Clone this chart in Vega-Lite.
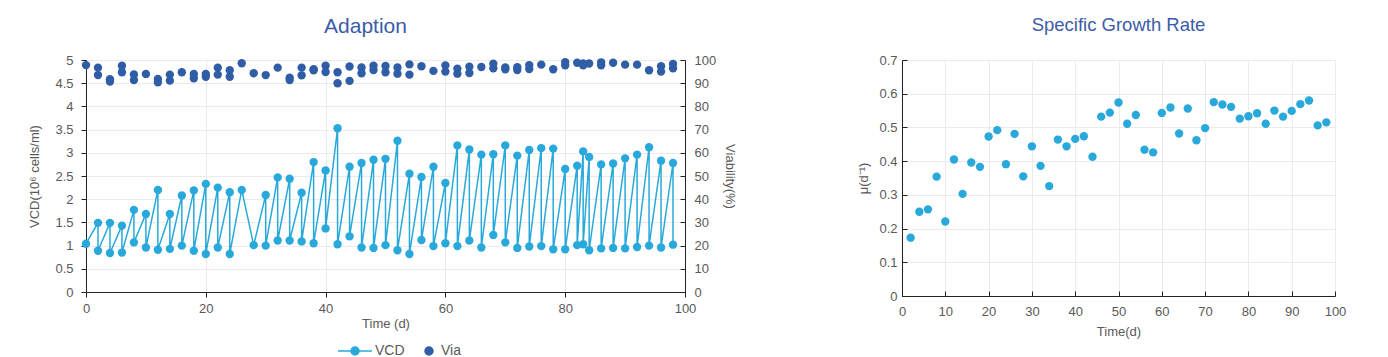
{
  "$schema": "https://vega.github.io/schema/vega-lite/v6.json",
  "padding": {"left": 28, "top": 15, "right": 5, "bottom": 0},
  "background": "white",
  "config": {
    "view": {"stroke": null},
    "font": "Liberation Sans",
    "title": {"font": "Liberation Sans", "fontSize": 18.5, "fontWeight": "normal", "color": "#3B5CA8", "anchor": "middle", "offset": 20},
    "axis": {"labelFont": "Liberation Sans", "labelFontSize": 13, "labelColor": "#595959", "titleFont": "Liberation Sans", "titleFontSize": 13, "titleFontWeight": "normal", "titleColor": "#595959", "domainColor": "#222222", "tickColor": "#222222", "gridColor": "#EBEBEB", "tickSize": 5, "labelFlush": false, "labelOverlap": false},
    "legend": {"labelFont": "Liberation Sans", "labelFontSize": 14, "labelColor": "#595959"}
  },
  "datasets": {
    "vcd": [
      {"s":1,"t":0,"v":1.04,"series":"VCD"},{"s":2,"t":2,"v":1.49,"series":"VCD"},{"s":3,"t":2,"v":0.89,"series":"VCD"},
      {"s":4,"t":4,"v":1.49,"series":"VCD"},{"s":5,"t":4,"v":0.84,"series":"VCD"},{"s":6,"t":6,"v":1.43,"series":"VCD"},
      {"s":7,"t":6,"v":0.85,"series":"VCD"},{"s":8,"t":8,"v":1.77,"series":"VCD"},{"s":9,"t":8,"v":1.07,"series":"VCD"},
      {"s":10,"t":10,"v":1.68,"series":"VCD"},{"s":11,"t":10,"v":0.96,"series":"VCD"},{"s":12,"t":12,"v":2.2,"series":"VCD"},
      {"s":13,"t":12,"v":0.91,"series":"VCD"},{"s":14,"t":14,"v":1.68,"series":"VCD"},{"s":15,"t":14,"v":0.93,"series":"VCD"},
      {"s":16,"t":16,"v":2.08,"series":"VCD"},{"s":17,"t":16,"v":1.0,"series":"VCD"},{"s":18,"t":18,"v":2.19,"series":"VCD"},
      {"s":19,"t":18,"v":0.89,"series":"VCD"},{"s":20,"t":20,"v":2.33,"series":"VCD"},{"s":21,"t":20,"v":0.82,"series":"VCD"},
      {"s":22,"t":22,"v":2.25,"series":"VCD"},{"s":23,"t":22,"v":0.96,"series":"VCD"},{"s":24,"t":24,"v":2.15,"series":"VCD"},
      {"s":25,"t":24,"v":0.82,"series":"VCD"},{"s":26,"t":26,"v":2.2,"series":"VCD"},{"s":27,"t":28,"v":1.01,"series":"VCD"},
      {"s":28,"t":30,"v":2.09,"series":"VCD"},{"s":29,"t":30,"v":1.0,"series":"VCD"},{"s":30,"t":32,"v":2.47,"series":"VCD"},
      {"s":31,"t":32,"v":1.11,"series":"VCD"},{"s":32,"t":34,"v":2.44,"series":"VCD"},{"s":33,"t":34,"v":1.11,"series":"VCD"},
      {"s":34,"t":36,"v":2.14,"series":"VCD"},{"s":35,"t":36,"v":1.09,"series":"VCD"},{"s":36,"t":38,"v":2.8,"series":"VCD"},
      {"s":37,"t":38,"v":1.05,"series":"VCD"},{"s":38,"t":40,"v":2.62,"series":"VCD"},{"s":39,"t":40,"v":1.37,"series":"VCD"},
      {"s":40,"t":42,"v":3.53,"series":"VCD"},{"s":41,"t":42,"v":1.03,"series":"VCD"},{"s":42,"t":44,"v":2.7,"series":"VCD"},
      {"s":43,"t":44,"v":1.2,"series":"VCD"},{"s":44,"t":46,"v":2.78,"series":"VCD"},{"s":45,"t":46,"v":0.96,"series":"VCD"},
      {"s":46,"t":48,"v":2.85,"series":"VCD"},{"s":47,"t":48,"v":0.95,"series":"VCD"},{"s":48,"t":50,"v":2.87,"series":"VCD"},
      {"s":49,"t":50,"v":1.01,"series":"VCD"},{"s":50,"t":52,"v":3.26,"series":"VCD"},{"s":51,"t":52,"v":0.9,"series":"VCD"},
      {"s":52,"t":54,"v":2.55,"series":"VCD"},{"s":53,"t":54,"v":0.82,"series":"VCD"},{"s":54,"t":56,"v":2.48,"series":"VCD"},
      {"s":55,"t":56,"v":1.12,"series":"VCD"},{"s":56,"t":58,"v":2.7,"series":"VCD"},{"s":57,"t":58,"v":0.99,"series":"VCD"},
      {"s":58,"t":60,"v":2.35,"series":"VCD"},{"s":59,"t":60,"v":1.05,"series":"VCD"},{"s":60,"t":62,"v":3.16,"series":"VCD"},
      {"s":61,"t":62,"v":0.99,"series":"VCD"},{"s":62,"t":64,"v":3.07,"series":"VCD"},{"s":63,"t":64,"v":1.11,"series":"VCD"},
      {"s":64,"t":66,"v":2.96,"series":"VCD"},{"s":65,"t":66,"v":0.96,"series":"VCD"},{"s":66,"t":68,"v":2.97,"series":"VCD"},
      {"s":67,"t":68,"v":1.23,"series":"VCD"},{"s":68,"t":70,"v":3.16,"series":"VCD"},{"s":69,"t":70,"v":1.07,"series":"VCD"},
      {"s":70,"t":72,"v":2.94,"series":"VCD"},{"s":71,"t":72,"v":0.95,"series":"VCD"},{"s":72,"t":74,"v":3.06,"series":"VCD"},
      {"s":73,"t":74,"v":0.98,"series":"VCD"},{"s":74,"t":76,"v":3.1,"series":"VCD"},{"s":75,"t":76,"v":0.99,"series":"VCD"},
      {"s":76,"t":78,"v":3.09,"series":"VCD"},{"s":77,"t":78,"v":0.92,"series":"VCD"},{"s":78,"t":80,"v":2.65,"series":"VCD"},
      {"s":79,"t":80,"v":0.92,"series":"VCD"},{"s":80,"t":82,"v":2.72,"series":"VCD"},{"s":81,"t":82,"v":1.01,"series":"VCD"},
      {"s":82,"t":83,"v":3.03,"series":"VCD"},{"s":83,"t":83,"v":1.03,"series":"VCD"},{"s":84,"t":84,"v":2.91,"series":"VCD"},
      {"s":85,"t":84,"v":0.9,"series":"VCD"},{"s":86,"t":86,"v":2.75,"series":"VCD"},{"s":87,"t":86,"v":0.94,"series":"VCD"},
      {"s":88,"t":88,"v":2.77,"series":"VCD"},{"s":89,"t":88,"v":0.95,"series":"VCD"},{"s":90,"t":90,"v":2.88,"series":"VCD"},
      {"s":91,"t":90,"v":0.94,"series":"VCD"},{"s":92,"t":92,"v":2.96,"series":"VCD"},{"s":93,"t":92,"v":0.97,"series":"VCD"},
      {"s":94,"t":94,"v":3.12,"series":"VCD"},{"s":95,"t":94,"v":1.0,"series":"VCD"},{"s":96,"t":96,"v":2.83,"series":"VCD"},
      {"s":97,"t":96,"v":0.96,"series":"VCD"},{"s":98,"t":98,"v":2.78,"series":"VCD"},{"s":99,"t":98,"v":1.02,"series":"VCD"}
    ],
    "via": [
      {"t":0,"via":97.8,"series":"Via"},
      {"t":2,"via":96.7,"series":"Via"},{"t":2,"via":93.5,"series":"Via"},
      {"t":4,"via":91.7,"series":"Via"},{"t":4,"via":90.7,"series":"Via"},
      {"t":6,"via":97.5,"series":"Via"},{"t":6,"via":94.7,"series":"Via"},
      {"t":8,"via":93.8,"series":"Via"},{"t":8,"via":91.4,"series":"Via"},
      {"t":10,"via":94.0,"series":"Via"},
      {"t":12,"via":91.8,"series":"Via"},{"t":12,"via":90.4,"series":"Via"},
      {"t":14,"via":93.7,"series":"Via"},{"t":14,"via":91.1,"series":"Via"},
      {"t":16,"via":94.7,"series":"Via"},
      {"t":18,"via":94.0,"series":"Via"},{"t":18,"via":92.1,"series":"Via"},
      {"t":20,"via":94.0,"series":"Via"},{"t":20,"via":92.8,"series":"Via"},
      {"t":22,"via":96.7,"series":"Via"},{"t":22,"via":93.7,"series":"Via"},
      {"t":24,"via":95.6,"series":"Via"},{"t":24,"via":92.8,"series":"Via"},
      {"t":26,"via":98.6,"series":"Via"},
      {"t":28,"via":94.3,"series":"Via"},
      {"t":30,"via":93.5,"series":"Via"},
      {"t":32,"via":96.7,"series":"Via"},
      {"t":34,"via":92.4,"series":"Via"},{"t":34,"via":91.4,"series":"Via"},
      {"t":36,"via":96.7,"series":"Via"},{"t":36,"via":93.4,"series":"Via"},
      {"t":38,"via":96.0,"series":"Via"},{"t":38,"via":95.6,"series":"Via"},
      {"t":40,"via":97.5,"series":"Via"},{"t":40,"via":94.8,"series":"Via"},
      {"t":42,"via":94.7,"series":"Via"},{"t":42,"via":90.0,"series":"Via"},
      {"t":44,"via":97.2,"series":"Via"},{"t":44,"via":91.0,"series":"Via"},
      {"t":46,"via":96.8,"series":"Via"},{"t":46,"via":94.3,"series":"Via"},
      {"t":48,"via":97.5,"series":"Via"},{"t":48,"via":95.7,"series":"Via"},
      {"t":50,"via":97.4,"series":"Via"},{"t":50,"via":94.7,"series":"Via"},
      {"t":52,"via":96.8,"series":"Via"},{"t":52,"via":94.1,"series":"Via"},
      {"t":54,"via":98.1,"series":"Via"},{"t":54,"via":93.7,"series":"Via"},
      {"t":56,"via":97.3,"series":"Via"},
      {"t":58,"via":95.3,"series":"Via"},
      {"t":60,"via":97.7,"series":"Via"},{"t":60,"via":95.0,"series":"Via"},
      {"t":62,"via":96.3,"series":"Via"},{"t":62,"via":94.1,"series":"Via"},
      {"t":64,"via":97.1,"series":"Via"},{"t":64,"via":94.4,"series":"Via"},
      {"t":66,"via":97.0,"series":"Via"},
      {"t":68,"via":98.4,"series":"Via"},{"t":68,"via":96.4,"series":"Via"},
      {"t":70,"via":96.8,"series":"Via"},{"t":70,"via":96.0,"series":"Via"},
      {"t":72,"via":96.9,"series":"Via"},{"t":72,"via":95.7,"series":"Via"},
      {"t":74,"via":97.8,"series":"Via"},{"t":74,"via":96.1,"series":"Via"},
      {"t":76,"via":98.0,"series":"Via"},
      {"t":78,"via":96.0,"series":"Via"},
      {"t":80,"via":99.1,"series":"Via"},{"t":80,"via":97.7,"series":"Via"},
      {"t":82,"via":98.8,"series":"Via"},
      {"t":83,"via":98.5,"series":"Via"},{"t":83,"via":97.7,"series":"Via"},
      {"t":84,"via":98.5,"series":"Via"},
      {"t":86,"via":99.0,"series":"Via"},{"t":86,"via":97.7,"series":"Via"},
      {"t":88,"via":98.8,"series":"Via"},
      {"t":90,"via":98.0,"series":"Via"},
      {"t":92,"via":98.0,"series":"Via"},
      {"t":94,"via":95.6,"series":"Via"},
      {"t":96,"via":97.3,"series":"Via"},{"t":96,"via":95.0,"series":"Via"},
      {"t":98,"via":98.3,"series":"Via"},{"t":98,"via":96.4,"series":"Via"}
    ],
    "mu": [
      {"t":2,"mu":0.173},{"t":4,"mu":0.25},{"t":6,"mu":0.257},{"t":8,"mu":0.354},{"t":10,"mu":0.221},
      {"t":12,"mu":0.405},{"t":14,"mu":0.303},{"t":16,"mu":0.396},{"t":18,"mu":0.383},{"t":20,"mu":0.473},
      {"t":22,"mu":0.492},{"t":24,"mu":0.391},{"t":26,"mu":0.481},{"t":28,"mu":0.355},{"t":30,"mu":0.444},
      {"t":32,"mu":0.386},{"t":34,"mu":0.326},{"t":36,"mu":0.464},{"t":38,"mu":0.444},{"t":40,"mu":0.466},
      {"t":42,"mu":0.474},{"t":44,"mu":0.413},{"t":46,"mu":0.532},{"t":48,"mu":0.544},{"t":50,"mu":0.574},
      {"t":52,"mu":0.511},{"t":54,"mu":0.537},{"t":56,"mu":0.434},{"t":58,"mu":0.426},{"t":60,"mu":0.543},
      {"t":62,"mu":0.559},{"t":64,"mu":0.482},{"t":66,"mu":0.556},{"t":68,"mu":0.462},{"t":70,"mu":0.498},
      {"t":72,"mu":0.575},{"t":74,"mu":0.568},{"t":76,"mu":0.561},{"t":78,"mu":0.526},{"t":80,"mu":0.533},
      {"t":82,"mu":0.542},{"t":84,"mu":0.511},{"t":86,"mu":0.55},{"t":88,"mu":0.532},{"t":90,"mu":0.549},
      {"t":92,"mu":0.569},{"t":94,"mu":0.58},{"t":96,"mu":0.506},{"t":98,"mu":0.515}
    ]
  },
  "spacing": 121,
  "hconcat": [
    {
      "width": 599,
      "height": 232,
      "title": {"text": "Adaption", "dx": -20, "fontSize": 21, "offset": 17.5},
      "layer": [
        {
          "data": {"name": "vcd"},
          "encoding": {
            "x": {"field": "t", "type": "quantitative", "scale": {"domain": [0, 100], "nice": false}, "axis": {"title": "Time (d)", "values": [0, 20, 40, 60, 80, 100], "grid": true, "labelPadding": 5, "titlePadding": 2}},
            "y": {"field": "v", "type": "quantitative", "scale": {"domain": [0, 5], "nice": false}, "axis": {"title": "VCD(10⁶ cells/ml)", "values": [0, 0.5, 1, 1.5, 2, 2.5, 3, 3.5, 4, 4.5, 5], "format": "~g", "grid": true, "labelPadding": 8, "titlePadding": 13}},
            "color": {
              "field": "series", "type": "nominal",
              "scale": {"domain": ["VCD", "Via"], "range": ["#29A9DB", "#2F5DA6"]},
              "legend": {
                "title": null, "orient": "none", "direction": "horizontal", "legendX": 274, "legendY": 284,
                "symbolSize": 100, "labelOffset": 1, "columnPadding": 17,
                "encode": {"symbols": {"update": {
                  "shape": {"signal": "datum.value === 'VCD' ? 'M-5.8,0L1,0M-1.6,0A0.8,0.8 0 1,1 -3.2,0A0.8,0.8 0 1,1 -1.6,0' : 'M0,0A0.8,0.8 0 1,1 -1.6,0A0.8,0.8 0 1,1 0,0'"},
                  "fill": {"signal": "datum.value === 'VCD' ? '#29A9DB' : '#2F5DA6'"},
                  "stroke": {"signal": "datum.value === 'VCD' ? '#29A9DB' : '#2F5DA6'"},
                  "strokeWidth": {"value": 1.5},
                  "opacity": {"value": 1}
                }}}
              }
            }
          },
          "layer": [
            {
              "mark": {"type": "line", "strokeWidth": 1.5},
              "encoding": {"order": {"field": "s", "type": "quantitative"}}
            },
            {
              "mark": {"type": "circle", "size": 70, "opacity": 1}
            }
          ]
        },
        {
          "data": {"name": "via"},
          "mark": {"type": "circle", "size": 70, "opacity": 1},
          "encoding": {
            "x": {"field": "t", "type": "quantitative"},
            "y": {"field": "via", "type": "quantitative", "scale": {"domain": [0, 100], "nice": false}, "axis": {"orient": "right", "title": "Viability(%)", "values": [0, 10, 20, 30, 40, 50, 60, 70, 80, 90, 100], "format": "d", "grid": false, "tickSize": -5, "labelPadding": 14, "titlePadding": 7}},
            "color": {"field": "series", "type": "nominal"}
          }
        }
      ],
      "resolve": {"scale": {"y": "independent"}}
    },
    {
      "width": 433,
      "height": 236,
      "title": "Specific Growth Rate",
      "data": {"name": "mu"},
      "mark": {"type": "circle", "size": 70, "opacity": 1, "color": "#29A9DB"},
      "encoding": {
        "x": {"field": "t", "type": "quantitative", "scale": {"domain": [0, 100], "nice": false}, "axis": {"title": "Time(d)", "values": [0, 10, 20, 30, 40, 50, 60, 70, 80, 90, 100], "grid": true, "tickSize": -5, "labelPadding": 14, "titlePadding": 7}},
        "y": {"field": "mu", "type": "quantitative", "scale": {"domain": [0, 0.7], "nice": false}, "axis": {"title": "μ(d⁻¹)", "values": [0, 0.1, 0.2, 0.3, 0.4, 0.5, 0.6, 0.7], "format": "~g", "grid": true, "tickSize": -5, "labelPadding": 10, "titlePadding": 8}}
      }
    }
  ]
}
